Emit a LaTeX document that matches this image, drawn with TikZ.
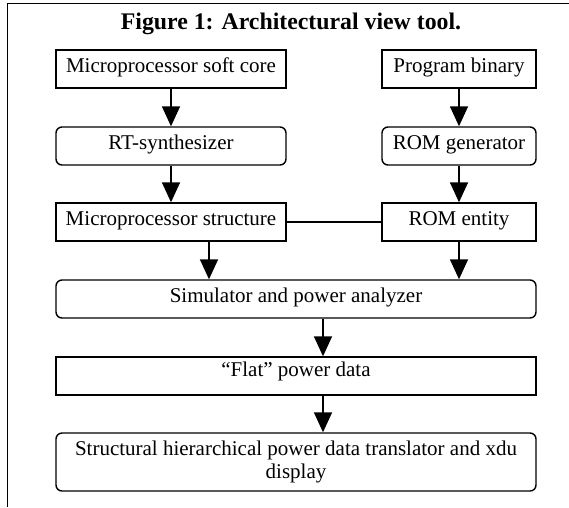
\documentclass[tikz,border=0pt]{standalone}
\usepackage{fontspec}
\setmainfont{Liberation Serif}
\usetikzlibrary{arrows.meta}
\begin{document}
\begin{tikzpicture}[x=1pt,y=-1pt,
  box/.style={draw, line width=1.4pt, inner sep=0pt, font=\fontsize{21}{23.5}\selectfont},
  oneline/.style={text height=22pt, text depth=16pt},
  rbox/.style={box, rounded corners=6pt},
  wbox/.style={minimum width=230pt},
  nbox/.style={minimum width=154pt},
  fbox/.style={minimum width=480pt},
  arr/.style={line width=1.6pt, -{Triangle[width=18pt,length=20pt]}},
  link/.style={line width=1.4pt},
  frameline/.style={line width=0.9pt}
  ]
\useasboundingbox (0,0) rectangle (569,507);
\draw[frameline] (7,507) -- (7,3) -- (569,3);
\node[font=\fontsize{23.8}{26}\selectfont\bfseries] (title) at (291,24) {Figure 1: Architectural view tool.};
\node[box,oneline,wbox] (b1) at (171,69) {Microprocessor soft core};
\node[box,oneline,nbox] (b2) at (459,69) {Program binary};
\node[rbox,oneline,wbox] (b3) at (171,146) {RT-synthesizer};
\node[rbox,oneline,nbox] (b4) at (459,146) {ROM generator};
\node[box,oneline,wbox] (b5) at (171,222) {Microprocessor structure};
\node[box,oneline,nbox] (b6) at (459,222) {ROM entity};
\node[rbox,oneline,fbox] (b7) at (296,299) {Simulator and power analyzer};
\node[box,fbox,text height=19pt,text depth=19pt] (b8) at (296,376) {“Flat” power data};
\node[rbox,fbox,minimum height=58pt,align=center] (b9) at (296,462)
  {Structural hierarchical power data translator and xdu\\display};
\draw[arr] (b1.south) -- (b3.north);
\draw[arr] (b2.south) -- (b4.north);
\draw[arr] (b3.south) -- (b5.north);
\draw[arr] (b4.south) -- (b6.north);
\draw[link] (b5.east) -- (b6.west);
\draw[arr] ([xshift=38pt]b5.south) -- ([xshift=38pt]b5.south |- b7.north);
\draw[arr] (b6.south) -- (b6.south |- b7.north);
\draw[arr] ([xshift=27pt]b7.south) -- ([xshift=27pt]b7.south |- b8.north);
\draw[arr] ([xshift=27pt]b8.south) -- ([xshift=27pt]b8.south |- b9.north);
\end{tikzpicture}
\end{document}
